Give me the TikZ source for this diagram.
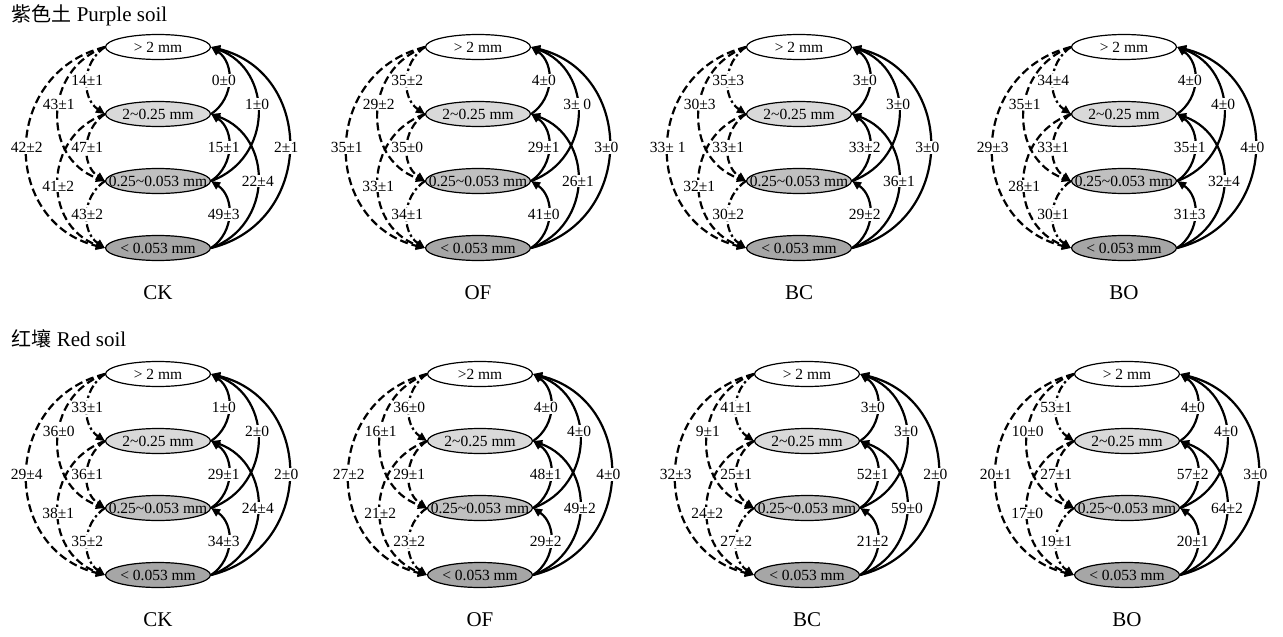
\documentclass[tikz,border=0pt]{standalone}
\usepackage{fontspec}
\setmainfont{Liberation Serif}
\newfontfamily\cjk{Noto Sans CJK SC}
\usepackage{xcolor}
\definecolor{lightgrey}{RGB}{217,217,217}
\definecolor{midgrey}{RGB}{192,192,192}
\definecolor{darkgrey}{RGB}{166,166,166}
\usepackage{tikz}
\usetikzlibrary{arrows.meta}
\usetikzlibrary{shapes.geometric}
\newcommand{\tld}{\textasciitilde}
\tikzset{
    frac/.style={draw, ellipse, line width=1.2pt, minimum width=105pt, minimum height=25pt, inner sep=0pt},
    share/.style={fill=white, inner sep=1pt},
    caption/.style={font=\fontsize{21}{24}\selectfont},
    arc/.style={line width=2.2pt, -{Triangle[length=9pt, width=8pt]}},
    split/.style={arc, dash pattern=on 8pt off 4pt},
    split-dd/.style={arc, dash pattern=on 8pt off 3pt on 2.5pt off 3pt},
    merge/.style={arc},
    span-1/.style={bend right=56, looseness=1.09},
    span-2/.style={bend right=70, looseness=1.27},
    span-3/.style={bend right=76, looseness=1.37}
}

\begin{document}
\begin{tikzpicture}[x=1pt, y=1pt, font=\fontsize{15.5}{17}\selectfont]
          \useasboundingbox (0,0) rectangle (1283,-637);

          \newcommand\fractions[4]{
            \path
              #1 node[frac, fill=white, label=center:{#3}] (#2-a) {}
              ++(270:67) node[frac, fill=lightgrey, label=center:{2\tld0.25 mm}] (#2-b) {}
              ++(270:67) node[frac, fill=midgrey, label=center:{0.25\tld0.053 mm}] (#2-c) {}
              ++(270:67) node[frac, fill=darkgrey, label=center:{< 0.053 mm}] (#2-d) {}
              ++(270:45) node[caption] (#2-name) {#4};
          }

          % left: larger -> smaller (a-b, a-c, a-d, b-c, b-d, c-d)
          \newcommand\splits[7]{
            \foreach \s/\t/\d/\k in {a/b/split-dd/1, a/c/split/2, a/d/split/3, b/c/split/1, b/d/split/2, c/d/split-dd/1}
              \draw[\d, span-\k] (#1-\s.west) to (#1-\t.west);
            \foreach \s/\t/\k/\l/\p in {a/b/1/#2/0.5, a/c/2/#3/0.44, a/d/3/#4/0.5, b/c/1/#5/0.5, b/d/2/#6/0.53, c/d/1/#7/0.5}
              \path (#1-\s.west) to[span-\k] node[share, pos=\p] {\l} (#1-\t.west);
          }

          % right: smaller -> larger (b-a, c-a, d-a, c-b, d-b, d-c)
          \newcommand\merges[7]{
            \foreach \s/\t/\k in {b/a/1, c/a/2, d/a/3, c/b/1, d/b/2, d/c/1}
              \draw[merge, span-\k] (#1-\s.east) to (#1-\t.east);
            \foreach \s/\t/\k/\l/\p/\x in {b/a/1/#2/0.5/-5, c/a/2/#3/0.56/0, d/a/3/#4/0.5/-3, c/b/1/#5/0.5/-5, d/b/2/#6/0.5/0, d/c/1/#7/0.5/-5}
              \path (#1-\s.east) to[span-\k] node[share, pos=\p, xshift=\x] {\l} (#1-\t.east);
          }

          \node[caption, anchor=west] (purple) at (8,-15) {{\cjk\fontsize{20}{24}\selectfont 紫色土} Purple soil};
          \node[caption, anchor=west] (red) at (8,-339) {{\cjk\fontsize{20}{24}\selectfont 红壤} Red soil};

          % purple soil
          \fractions{(158,-47)}{pck}{> 2 mm}{CK}
          \splits{pck}{14±1}{43±1}{42±2}{47±1}{41±2}{43±2}
          \merges{pck}{0±0}{1±0}{2±1}{15±1}{22±4}{49±3}

          \fractions{(478,-47)}{pof}{> 2 mm}{OF}
          \splits{pof}{35±2}{29±2}{35±1}{35±0}{33±1}{34±1}
          \merges{pof}{4±0}{3± 0}{3±0}{29±1}{26±1}{41±0}

          \fractions{(799,-47)}{pbc}{> 2 mm}{BC}
          \splits{pbc}{35±3}{30±3}{33± 1}{33±1}{32±1}{30±2}
          \merges{pbc}{3±0}{3±0}{3±0}{33±2}{36±1}{29±2}

          \fractions{(1124,-47)}{pbo}{> 2 mm}{BO}
          \splits{pbo}{34±4}{35±1}{29±3}{33±1}{28±1}{30±1}
          \merges{pbo}{4±0}{4±0}{4±0}{35±1}{32±4}{31±3}

          % red soil
          \fractions{(158,-374)}{rck}{> 2 mm}{CK}
          \splits{rck}{33±1}{36±0}{29±4}{36±1}{38±1}{35±2}
          \merges{rck}{1±0}{2±0}{2±0}{29±1}{24±4}{34±3}

          \fractions{(480,-374)}{rof}{>2 mm}{OF}
          \splits{rof}{36±0}{16±1}{27±2}{29±1}{21±2}{23±2}
          \merges{rof}{4±0}{4±0}{4±0}{48±1}{49±2}{29±2}

          \fractions{(807,-374)}{rbc}{> 2 mm}{BC}
          \splits{rbc}{41±1}{9±1}{32±3}{25±1}{24±2}{27±2}
          \merges{rbc}{3±0}{3±0}{2±0}{52±1}{59±0}{21±2}

          \fractions{(1127,-374)}{rbo}{> 2 mm}{BO}
          \splits{rbo}{53±1}{10±0}{20±1}{27±1}{17±0}{19±1}
          \merges{rbo}{4±0}{4±0}{3±0}{57±2}{64±2}{20±1}
\end{tikzpicture}
\end{document}
